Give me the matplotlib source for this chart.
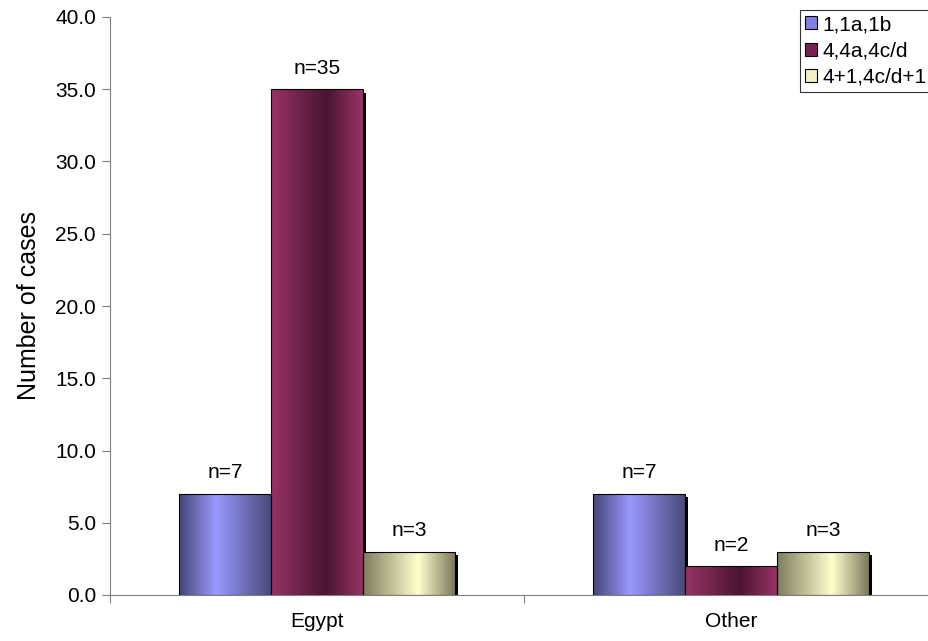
import numpy as np
import matplotlib.pyplot as plt
from matplotlib.colors import LinearSegmentedColormap
from matplotlib.patches import Rectangle

plt.rcParams["font.family"] = ["Liberation Sans", "DejaVu Sans"]

categories = ["Egypt", "Other"]
series = ["1,1a,1b", "4,4a,4c/d", "4+1,4c/d+1"]
counts = [[7, 7], [35, 2], [3, 3]]
bar_labels = [["n=7", "n=7"], ["n=35", "n=2"], ["n=3", "n=3"]]

# edge -> highlight -> edge colour stops for each series
shades = [
    [(0.0, "#454576"), (0.4, "#9999ff"), (1.0, "#4a4a7a")],
    [(0.0, "#993366"), (0.6, "#4a1530"), (1.0, "#993366")],
    [(0.0, "#7d7d60"), (0.6, "#ffffcc"), (1.0, "#7a7a5c")],
]
legend_colors = ["#8080e0", "#7a2050", "#f0f0c0"]

fig = plt.figure(figsize=(9.29, 6.41), dpi=100)
ax = fig.add_axes([110 / 929, 46 / 641, 828 / 929, 578 / 641])

width = 0.222
x = np.arange(len(categories))
grad = np.linspace(0, 1, 256).reshape(1, -1)

for i, name in enumerate(series):
    cmap = LinearSegmentedColormap.from_list(name, shades[i])
    pos = x + (i - 1) * width
    bars = ax.bar(pos, counts[i], width, facecolor="none", edgecolor="black",
                  linewidth=0.8, zorder=3, label=name)
    for b, v, lab in zip(bars, counts[i], bar_labels[i]):
        x0 = b.get_x()
        # drop shadow to the right
        ax.add_patch(Rectangle((x0 + 0.008, 0), width, v - 0.25, facecolor="black",
                               edgecolor="none", zorder=1))
        im = ax.imshow(grad, cmap=cmap, aspect="auto", zorder=2,
                       extent=(x0, x0 + width, 0, v))
        im.set_clip_path(b)
        ax.text(x0 + width / 2, v + 0.8, lab, ha="center", va="bottom", fontsize=15)

ax.set_xlim(-0.5, 1.5)
ax.set_ylim(0, 40)
ax.set_yticks(np.arange(0, 41, 5))
ax.set_yticklabels(["%.1f" % t for t in np.arange(0, 41, 5)], fontsize=15)
ax.set_xticks([-0.5, 0.5, 1.5])
ax.set_xticklabels([])
ax.set_xticks(x, minor=True)
ax.set_xticklabels(categories, minor=True, fontsize=15)
ax.tick_params(axis="x", which="minor", length=0, pad=12)
ax.tick_params(axis="x", which="major", length=6, color="#808080")
ax.tick_params(axis="y", length=6, color="#808080", pad=4)
ax.set_ylabel("Number of cases", fontsize=18, labelpad=10)

for s in ["top", "right"]:
    ax.spines[s].set_visible(False)
ax.spines["left"].set_color("#808080")
ax.spines["bottom"].set_color("#808080")

handles = [Rectangle((0, 0), 1, 1, facecolor=c, edgecolor="black", linewidth=0.8)
           for c in legend_colors]
leg = fig.legend(handles, series, loc="upper right", bbox_to_anchor=(932 / 929, 631 / 641),
                 fontsize=15, frameon=True, fancybox=False, edgecolor="black",
                 handlelength=0.6, handleheight=0.6, handletextpad=0.25,
                 borderpad=0.25, labelspacing=0.35, borderaxespad=0)
leg.get_frame().set_linewidth(0.8)

fig.savefig("out.png", dpi=100)
